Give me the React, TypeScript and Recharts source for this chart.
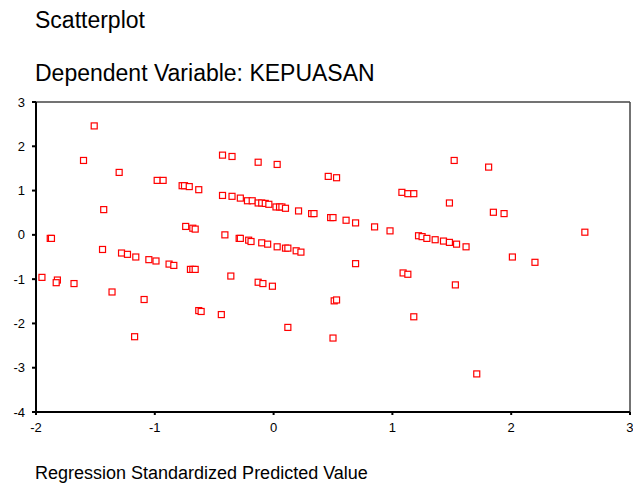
import React from "react";
import {
  ScatterChart,
  Scatter,
  XAxis,
  YAxis,
  ReferenceLine,
} from "recharts";

// standardized predicted value (x) and standardized residual (y)
const predicted = [
  -1.51, -1.6, -1.3, -0.98, -0.93, -0.77, -0.75, -0.71, -0.63, -1.43,
  -1.88, -1.87, -0.74, -0.68, -0.66, -1.44, -1.28, -1.23, -1.16, -1.05,
  -0.99, -0.88, -0.84, -0.7, -0.68, -0.66, -1.95, -1.82, -1.83, -1.68,
  -1.36, -1.09, -0.63, -0.61, -0.44, -1.17, -0.43, -0.35, -0.13, 0.03,
  0.46, 0.53, 1.08, 1.13, 1.18, -0.43, -0.35, -0.28, -0.22, -0.18,
  -0.13, -0.1, -0.07, -0.04, 0.02, 0.05, 0.07, 0.1, 0.21, 0.32,
  0.34, 0.48, 0.5, 0.61, 0.69, 0.85, 0.98, 1.22, 1.25, 1.29,
  1.36, 1.43, 1.48, 1.54, 1.62, -0.41, -0.29, -0.28, -0.21, -0.19,
  -0.1, -0.05, 0.03, 0.1, 0.12, 0.19, 0.23, 0.69, -0.36, -0.13,
  -0.09, -0.01, 1.09, 1.13, 0.51, 0.53, 0.12, 0.5, 1.18, 1.52,
  1.81, 1.48, 1.85, 1.94, 2.62, 2.01, 2.2, 1.53, 1.71,
];

const residual = [
  2.46, 1.68, 1.41, 1.23, 1.23, 1.11, 1.11, 1.09, 1.02, 0.57,
  -0.08, -0.08, 0.19, 0.15, 0.13, -0.33, -0.41, -0.44, -0.5, -0.56,
  -0.59, -0.66, -0.69, -0.78, -0.78, -0.78, -0.96, -1.02, -1.08, -1.1,
  -1.29, -1.46, -1.71, -1.73, -1.8, -2.3, 1.8, 1.77, 1.64, 1.59,
  1.32, 1.29, 0.96, 0.93, 0.93, 0.89, 0.87, 0.83, 0.77, 0.77,
  0.72, 0.72, 0.71, 0.69, 0.63, 0.63, 0.63, 0.6, 0.54, 0.48,
  0.48, 0.39, 0.39, 0.33, 0.27, 0.18, 0.09, -0.02, -0.04, -0.08,
  -0.11, -0.14, -0.17, -0.21, -0.27, 0.0, -0.08, -0.08, -0.12, -0.15,
  -0.18, -0.21, -0.27, -0.3, -0.3, -0.36, -0.39, -0.65, -0.93, -1.07,
  -1.1, -1.16, -0.86, -0.89, -1.49, -1.47, -2.09, -2.33, -1.85, 1.68,
  1.53, 0.72, 0.51, 0.48, 0.06, -0.5, -0.62, -1.13, -3.14,
];

const xTicks = [-2, -1, 0, 1, 2, 3];
const yTicks = [-4, -3, -2, -1, 0, 1, 2, 3];

const points = predicted.map((x, i) => ({ x, y: residual[i] }));

const FONT = "Arial, 'Liberation Sans', sans-serif";

// hollow red square marker
const SquareMarker = (props: any) => {
  const { cx, cy } = props;
  if (cx == null || cy == null) return null;
  return (
    <rect
      x={cx - 3}
      y={cy - 3}
      width={6}
      height={6}
      fill="#fff"
      stroke="#ff0000"
      strokeWidth={1.2}
    />
  );
};

export default function App() {
  return (
    <div
      style={{
        position: "absolute",
        left: 0,
        top: 0,
        width: 633,
        height: 485,
        background: "#fff",
        fontFamily: FONT,
        overflow: "hidden",
      }}
    >
      <div style={{ position: "absolute", left: 35, top: 7, fontSize: 23, color: "#000" }}>
        Scatterplot
      </div>
      <div style={{ position: "absolute", left: 35, top: 60, fontSize: 23, color: "#000" }}>
        Dependent Variable: KEPUASAN
      </div>
      <div style={{ position: "absolute", left: 35, top: 463, fontSize: 18, color: "#000" }}>
        Regression Standardized Predicted Value
      </div>

      <ScatterChart
        width={633}
        height={485}
        margin={{ top: 102, right: 3, bottom: 43, left: 0 }}
      >
        <XAxis
          type="number"
          dataKey="x"
          domain={[-2, 3]}
          ticks={xTicks}
          height={30}
          tickSize={3}
          tickMargin={8}
          stroke="#000"
          strokeWidth={2}
          tick={{ fill: "#000", fontSize: 13, fontFamily: FONT }}
          allowDataOverflow
        />
        <YAxis
          type="number"
          dataKey="y"
          domain={[-4, 3]}
          ticks={yTicks}
          width={36}
          tickSize={4}
          tickMargin={7}
          stroke="#000"
          strokeWidth={2}
          tick={{ fill: "#000", fontSize: 13, fontFamily: FONT }}
          allowDataOverflow
        />
        <ReferenceLine y={3} stroke="#444" strokeWidth={1.5} />
        <ReferenceLine x={3} stroke="#444" strokeWidth={1.5} />
        <Scatter
          data={points}
          shape={SquareMarker}
          isAnimationActive={false}
        />
      </ScatterChart>
    </div>
  );
}
